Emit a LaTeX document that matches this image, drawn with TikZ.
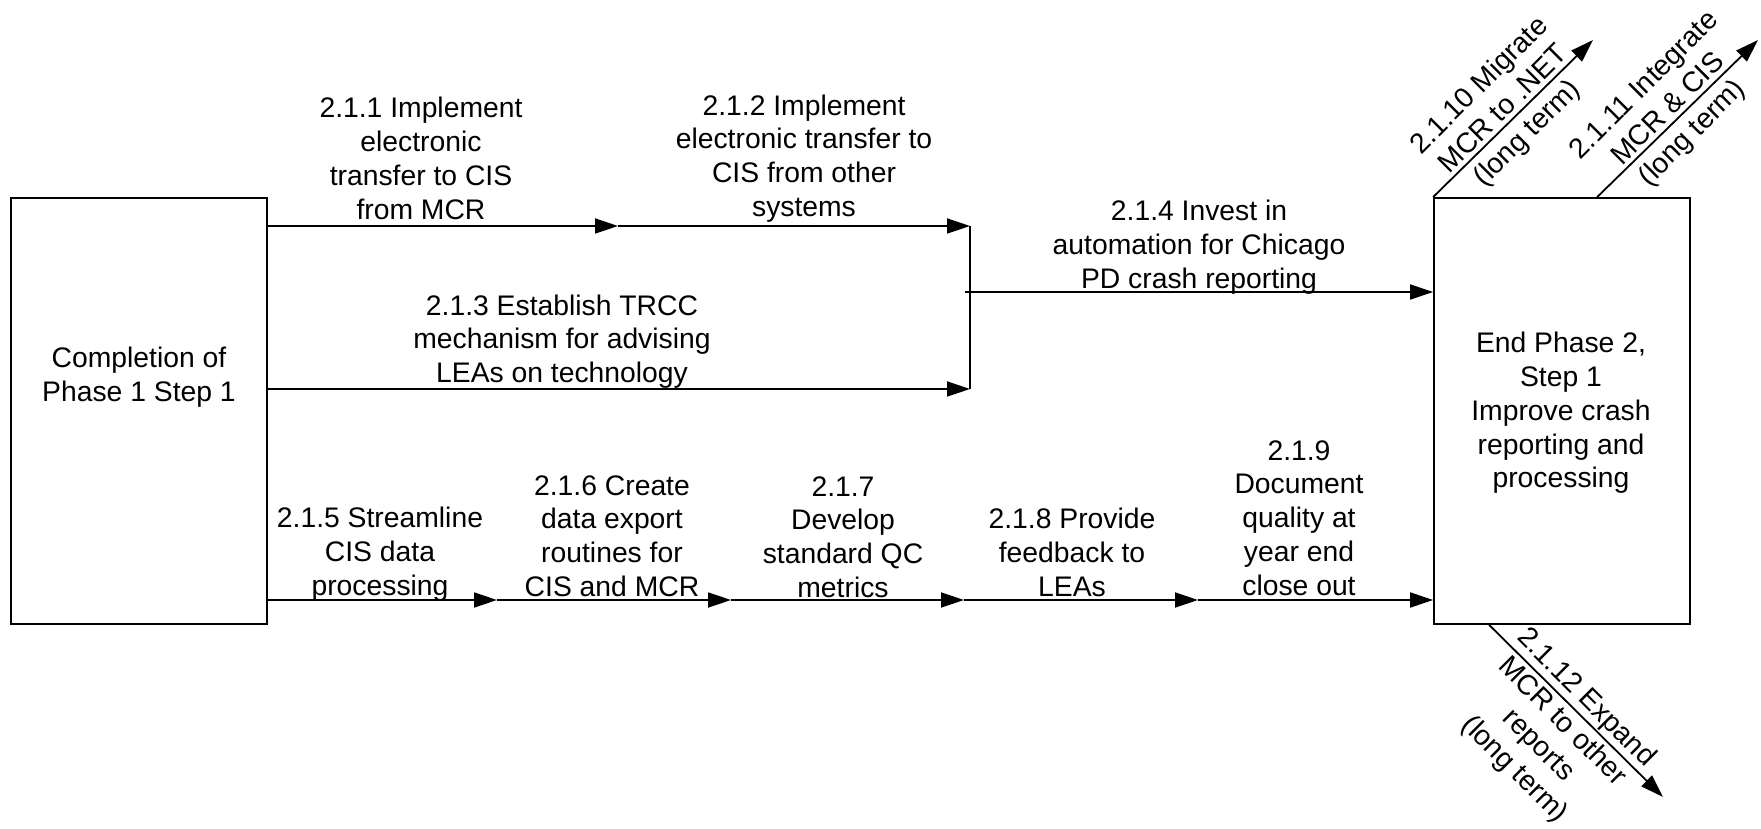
\documentclass[tikz,border=0pt]{standalone}
\usepackage{fontspec}
\setmainfont{Liberation Sans}
\usetikzlibrary{arrows.meta}
\begin{document}
\begin{tikzpicture}[x=1pt,y=1pt,
  box/.style={draw, line width=1.8pt, minimum width=256pt, minimum height=426pt, inner sep=0pt},
  conn/.style={line width=1.8pt},
  arr/.style={conn, -{Triangle[length=23pt,width=15pt]}},
  lbl/.style={align=center, font=\fontsize{28.3}{33.8}\selectfont, inner sep=0pt}]
\useasboundingbox (0,0) rectangle (1761,828);
% boxes
\node[box] (A) at (139,417) {};
\node[lbl] (At) at (139,450.5) {Completion of\\Phase 1 Step 1};
\node[box] (B) at (1562,417) {};
\node[lbl] (Bt) at (1561,415) {End Phase 2,\\Step 1\\Improve crash\\reporting and\\processing};
% coordinates
\coordinate (t1) at (618,602);
\coordinate (j1) at (970,602);
\coordinate (j2) at (970,439);
\coordinate (jm) at (965,536);
\coordinate (b1) at (497,228);
\coordinate (b2) at (731,228);
\coordinate (b3) at (964,228);
\coordinate (b4) at (1198,228);
\coordinate (d1) at (1593,788);
\coordinate (d2) at (1758,788);
\coordinate (d3) at (1663,31);
% connectors
\draw[arr] (A.east |- t1) -- (t1);
\draw[arr] (t1) -- (j1);
\draw[arr] (A.east |- j2) -- (j2);
\draw[conn] (j1) -- (j2);
\draw[arr] (jm) -- (B.west |- jm);
\draw[arr] (A.east |- b1) -- (b1);
\draw[arr] (b1) -- (b2);
\draw[arr] (b2) -- (b3);
\draw[arr] (b3) -- (b4);
\draw[arr] (b4) -- (B.west |- b4);
\draw[arr] (B.north west) -- (d1);
\draw[arr] ([xshift=164pt]B.north west) -- (d2);
\draw[arr] ([xshift=56pt]B.south west) -- (d3);
% labels
\node[lbl] (l1) at (421,669.5) {2.1.1 Implement\\electronic\\transfer to CIS\\from MCR};
\node[lbl] (l2) at (804,669.5) {2.1.2 Implement\\electronic transfer to\\CIS from other\\systems};
\node[lbl] (l3) at (562,486.5) {2.1.3 Establish TRCC\\mechanism for advising\\LEAs on technology};
\node[lbl] (l4) at (1199,581) {2.1.4 Invest in\\automation for Chicago\\PD crash reporting};
\node[lbl] (l5) at (380,274) {2.1.5 Streamline\\CIS data\\processing};
\node[lbl] (l6) at (612,292) {2.1.6 Create\\data export\\routines for\\CIS and MCR};
\node[lbl] (l7) at (843,291) {2.1.7\\Develop\\standard QC\\metrics};
\node[lbl] (l8) at (1072,275.5) {2.1.8 Provide\\feedback to\\LEAs};
\node[lbl] (l9) at (1299,310) {2.1.9\\Document\\quality at\\year end\\close out};
\node[lbl, rotate=45] (l10) at (1504,718) {2.1.10 Migrate\\MCR to .NET\\(long term)};
\node[lbl, rotate=45] (l11) at (1669,718) {2.1.11 Integrate\\MCR \& CIS\\(long term)};
\node[lbl, rotate=-45] (l12) at (1550,94) {2.1.12 Expand\\MCR to other\\reports\\(long term)};
\end{tikzpicture}
\end{document}
